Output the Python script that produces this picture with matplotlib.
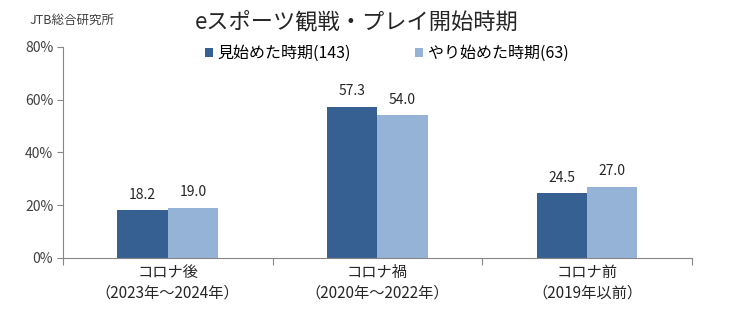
import numpy as np
import matplotlib.pyplot as plt

plt.rcParams['font.family'] = ['Noto Sans CJK JP', 'DejaVu Sans']

# データ
categories = ['コロナ後\n（2023年～2024年）', 'コロナ禍\n（2020年～2022年）', 'コロナ前\n（2019年以前）']
series_names = ['見始めた時期(143)', 'やり始めた時期(63)']
watch_start = [18.2, 57.3, 24.5]
play_start = [19.0, 54.0, 27.0]
colors = ['#376092', '#95B3D7']

fig = plt.figure(figsize=(7.32, 3.35), dpi=100)
ax = fig.add_axes([0.086, 0.230, 0.859, 0.630])

x = np.arange(len(categories))
w = 0.24
bars1 = ax.bar(x - w / 2, watch_start, w, color=colors[0], label=series_names[0])
bars2 = ax.bar(x + w / 2, play_start, w, color=colors[1], label=series_names[1])

# データラベル
for bars, vals in [(bars1, watch_start), (bars2, play_start)]:
    for b, v in zip(bars, vals):
        ax.annotate(f'{v:.1f}', (b.get_x() + b.get_width() / 2, v),
                    xytext=(0, 6), textcoords='offset points',
                    ha='center', va='bottom', fontsize=10, color='#262626')

ax.set_xlim(-0.5, len(categories) - 0.5)
ax.set_ylim(0, 80)
ax.set_yticks([0, 20, 40, 60, 80])
ax.set_yticklabels([f'{t}%' for t in [0, 20, 40, 60, 80]], fontsize=10, color='#404040')

# x軸: 区切り位置に目盛り
ax.set_xticks(np.arange(len(categories) + 1) - 0.5)
ax.set_xticklabels([])
ax.set_xticks(x, minor=True)
ax.set_xticklabels(categories, minor=True, fontsize=11, color='#262626', linespacing=1.3)
ax.tick_params(axis='x', which='minor', length=0, pad=4)
ax.tick_params(axis='x', which='major', length=5, color='#868686')
ax.tick_params(axis='y', length=4, color='#868686', pad=3)

for s in ['top', 'right']:
    ax.spines[s].set_visible(False)
for s in ['left', 'bottom']:
    ax.spines[s].set_color('#868686')

ax.legend(loc='center', bbox_to_anchor=(0.515, 0.97), ncol=2, frameon=False,
          fontsize=11.5, handlelength=0.5, handleheight=0.5, handletextpad=0.3,
          columnspacing=4.0)

fig.text(0.488, 0.935, 'eスポーツ観戦・プレイ開始時期', ha='center', va='center',
         fontsize=16, color='#262626')
fig.text(0.04, 0.94, 'JTB総合研究所', ha='left', va='center', fontsize=9, color='#404040')

fig.savefig('out.png', dpi=100)
